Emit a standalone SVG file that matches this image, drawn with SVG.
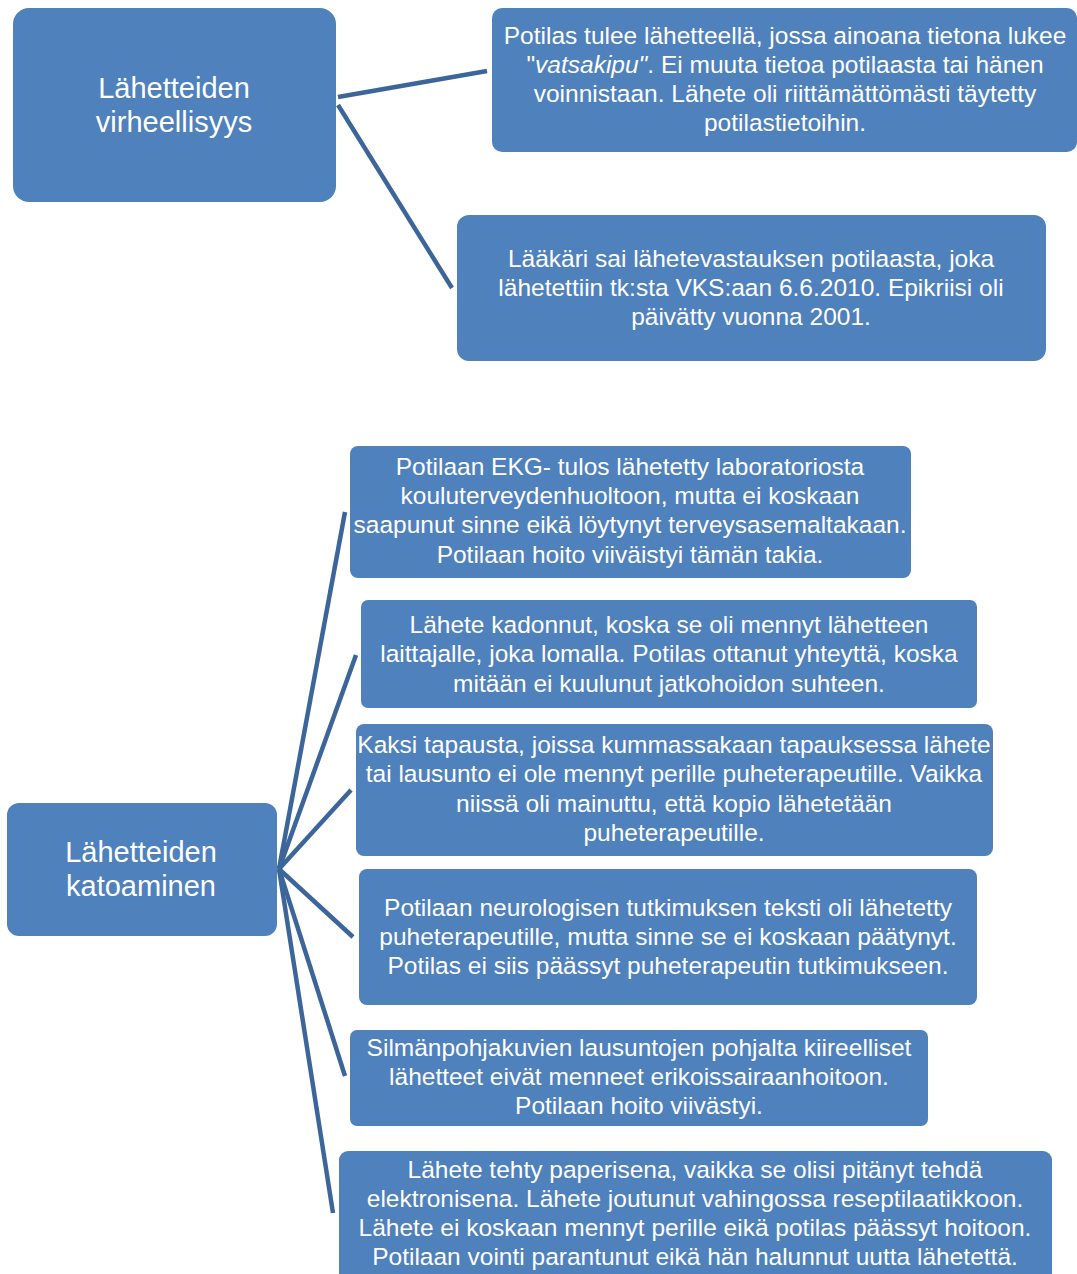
<svg xmlns="http://www.w3.org/2000/svg" width="1077" height="1274" viewBox="0 0 1077 1274">
  <style>
    .box { fill: #4F81BD; }
    .txt { fill: #FFFFFF; font-family: "Liberation Sans", Arial, sans-serif; font-size: 24.5px; text-anchor: middle; }
    .head { fill: #FFFFFF; font-family: "Liberation Sans", Arial, sans-serif; font-size: 29px; text-anchor: middle; }
    .link { stroke: #3C6699; stroke-width: 4.5; fill: none; stroke-linecap: butt; }
  </style>
  <rect width="1077" height="1274" fill="#FFFFFF"/>

  <!-- connectors -->
  <g id="connectors">
    <line class="link" x1="338" y1="97" x2="487" y2="71"/>
    <line class="link" x1="338" y1="105" x2="452" y2="288"/>
    <line class="link" x1="279" y1="869" x2="345" y2="512"/>
    <line class="link" x1="279" y1="869" x2="356" y2="655"/>
    <line class="link" x1="279" y1="869" x2="351" y2="790"/>
    <line class="link" x1="279" y1="869" x2="353" y2="937"/>
    <line class="link" x1="279" y1="869" x2="345" y2="1076"/>
    <line class="link" x1="279" y1="869" x2="333" y2="1213"/>
  </g>

  <!-- first category -->
  <g id="virheellisyys">
    <rect class="box" x="13" y="8" width="323" height="194" rx="16"/>
    <text class="head" x="174" y="98">Lähetteiden</text>
    <text class="head" x="174" y="132">virheellisyys</text>
  </g>

  <g id="vatsakipu">
    <rect class="box" x="492" y="8" width="585" height="144" rx="10"/>
    <text class="txt" x="785" y="44">Potilas tulee lähetteellä, jossa ainoana tietona lukee</text>
    <text class="txt" x="785" y="73">"<tspan font-style="italic">vatsakipu"</tspan>. Ei muuta tietoa potilaasta tai hänen</text>
    <text class="txt" x="785" y="102">voinnistaan. Lähete oli riittämättömästi täytetty</text>
    <text class="txt" x="785" y="131">potilastietoihin.</text>
  </g>

  <g id="epikriisi">
    <rect class="box" x="457" y="215" width="589" height="146" rx="12"/>
    <text class="txt" x="751" y="267">Lääkäri sai lähetevastauksen potilaasta, joka</text>
    <text class="txt" x="751" y="296">lähetettiin tk:sta VKS:aan 6.6.2010. Epikriisi oli</text>
    <text class="txt" x="751" y="325">päivätty vuonna 2001.</text>
  </g>

  <!-- second category -->
  <g id="katoaminen">
    <rect class="box" x="7" y="803" width="270" height="133" rx="12"/>
    <text class="head" x="141" y="862">Lähetteiden</text>
    <text class="head" x="141" y="896">katoaminen</text>
  </g>

  <g id="ekg">
    <rect class="box" x="350" y="446" width="561" height="132" rx="8"/>
    <text class="txt" x="630" y="475">Potilaan EKG- tulos lähetetty laboratoriosta</text>
    <text class="txt" x="630" y="504">kouluterveydenhuoltoon, mutta ei koskaan</text>
    <text class="txt" x="630" y="533">saapunut sinne eikä löytynyt terveysasemaltakaan.</text>
    <text class="txt" x="630" y="563">Potilaan hoito viiväistyi tämän takia.</text>
  </g>

  <g id="loma">
    <rect class="box" x="361" y="600" width="616" height="108" rx="7"/>
    <text class="txt" x="669" y="633">Lähete kadonnut, koska se oli mennyt lähetteen</text>
    <text class="txt" x="669" y="662">laittajalle, joka lomalla. Potilas ottanut yhteyttä, koska</text>
    <text class="txt" x="669" y="692">mitään ei kuulunut jatkohoidon suhteen.</text>
  </g>

  <g id="kaksi-tapausta">
    <rect class="box" x="356" y="724" width="637" height="132" rx="8"/>
    <text class="txt" x="674" y="753">Kaksi tapausta, joissa kummassakaan tapauksessa lähete</text>
    <text class="txt" x="674" y="782">tai lausunto ei ole mennyt perille puheterapeutille. Vaikka</text>
    <text class="txt" x="674" y="812">niissä oli mainuttu, että kopio lähetetään</text>
    <text class="txt" x="674" y="841">puheterapeutille.</text>
  </g>

  <g id="neurologinen">
    <rect class="box" x="359" y="869" width="618" height="136" rx="8"/>
    <text class="txt" x="668" y="916">Potilaan neurologisen tutkimuksen teksti oli lähetetty</text>
    <text class="txt" x="668" y="945">puheterapeutille, mutta sinne se ei koskaan päätynyt.</text>
    <text class="txt" x="668" y="974">Potilas ei siis päässyt puheterapeutin tutkimukseen.</text>
  </g>

  <g id="silmanpohja">
    <rect class="box" x="350" y="1030" width="578" height="96" rx="7"/>
    <text class="txt" x="639" y="1056">Silmänpohjakuvien lausuntojen pohjalta kiireelliset</text>
    <text class="txt" x="639" y="1085">lähetteet eivät menneet erikoissairaanhoitoon.</text>
    <text class="txt" x="639" y="1114">Potilaan hoito viivästyi.</text>
  </g>

  <g id="paperinen">
    <rect class="box" x="339" y="1151" width="713" height="140" rx="9"/>
    <text class="txt" x="695" y="1178">Lähete tehty paperisena, vaikka se olisi pitänyt tehdä</text>
    <text class="txt" x="695" y="1207">elektronisena. Lähete joutunut vahingossa reseptilaatikkoon.</text>
    <text class="txt" x="695" y="1236">Lähete ei koskaan mennyt perille eikä potilas päässyt hoitoon.</text>
    <text class="txt" x="695" y="1265">Potilaan vointi parantunut eikä hän halunnut uutta lähetettä.</text>
  </g>
</svg>
